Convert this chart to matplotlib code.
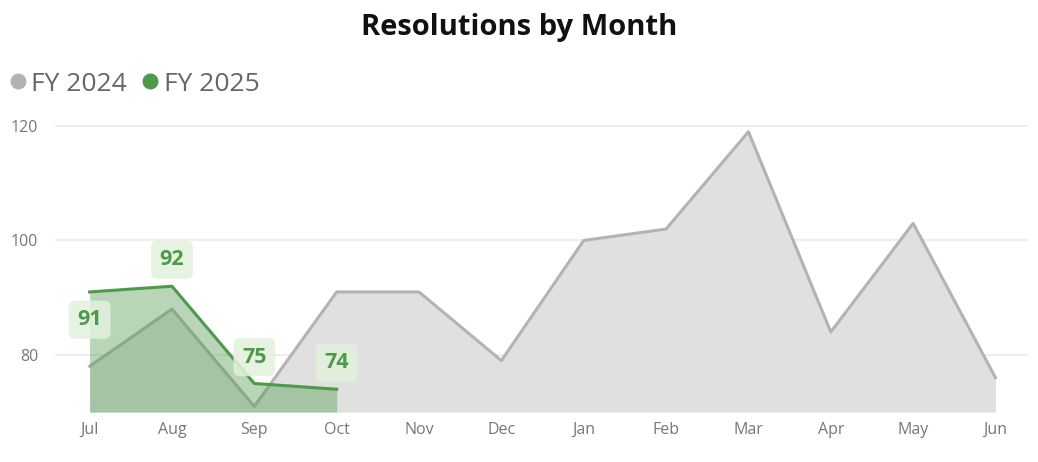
import matplotlib.pyplot as plt
from matplotlib.lines import Line2D

months = ["Jul", "Aug", "Sep", "Oct", "Nov", "Dec", "Jan", "Feb", "Mar", "Apr", "May", "Jun"]
fy2024 = [78, 88, 71, 91, 91, 79, 100, 102, 119, 84, 103, 76]
fy2025 = [91, 92, 75, 74]

GRAY_LINE = "#b3b3b3"
GRAY_FILL = "#e0e0e0"
GREEN = "#4e9a4b"

plt.rcParams["font.family"] = ["Open Sans", "DejaVu Sans"]

fig = plt.figure(figsize=(10.38, 4.62), dpi=100)
ax = fig.add_axes([0.053, 0.108, 0.937, 0.644])

x24 = list(range(len(fy2024)))
x25 = list(range(len(fy2025)))
base = 70

ax.fill_between(x24, fy2024, base, color=GRAY_FILL, lw=0, zorder=1)
ax.plot(x24, fy2024, color=GRAY_LINE, lw=2.2, zorder=2)
ax.fill_between(x25, fy2025, base, color=GREEN, alpha=0.4, lw=0, zorder=3)
ax.plot(x25, fy2025, color=GREEN, lw=2.2, zorder=4)

# data labels for FY 2025
offsets = [-20, 19, 19, 19]
for i, v in enumerate(fy2025):
    ax.annotate(str(v), (i, v), xytext=(0, offsets[i]), textcoords="offset points",
                ha="center", va="center", fontsize=15.5, fontweight="bold", color=GREEN,
                bbox=dict(boxstyle="round,pad=0.4,rounding_size=0.3", fc="#e3f1dc",
                          ec="none", alpha=0.85), zorder=5)

ax.set_xlim(-0.42, 11.39)
ax.set_ylim(base, 122)
ax.set_yticks([80, 100, 120])
ax.set_xticks(x24)
ax.set_xticklabels(months)
ax.grid(axis="y", color="#ebebeb", lw=1.2, zorder=0)
ax.set_axisbelow(True)
for s in ax.spines.values():
    s.set_visible(False)
ax.tick_params(length=0, colors="#777777", labelsize=11.5)
ax.tick_params(axis="y", pad=12)
ax.tick_params(axis="x", pad=7)

fig.text(0.5, 0.94, "Resolutions by Month", ha="center", va="center",
         fontsize=21, fontweight="bold", color="#111111")

handles = [Line2D([], [], marker="o", ls="none", color="#b3b3b3", markersize=10.5),
           Line2D([], [], marker="o", ls="none", color=GREEN, markersize=10.5)]
fig.legend(handles, ["FY 2024", "FY 2025"], loc="center left", bbox_to_anchor=(-0.021, 0.818),
           ncol=2, frameon=False, fontsize=19, handletextpad=-0.1, columnspacing=0.3,
           labelcolor="#666666", handlelength=1.2)

fig.savefig("out.png", dpi=100)
